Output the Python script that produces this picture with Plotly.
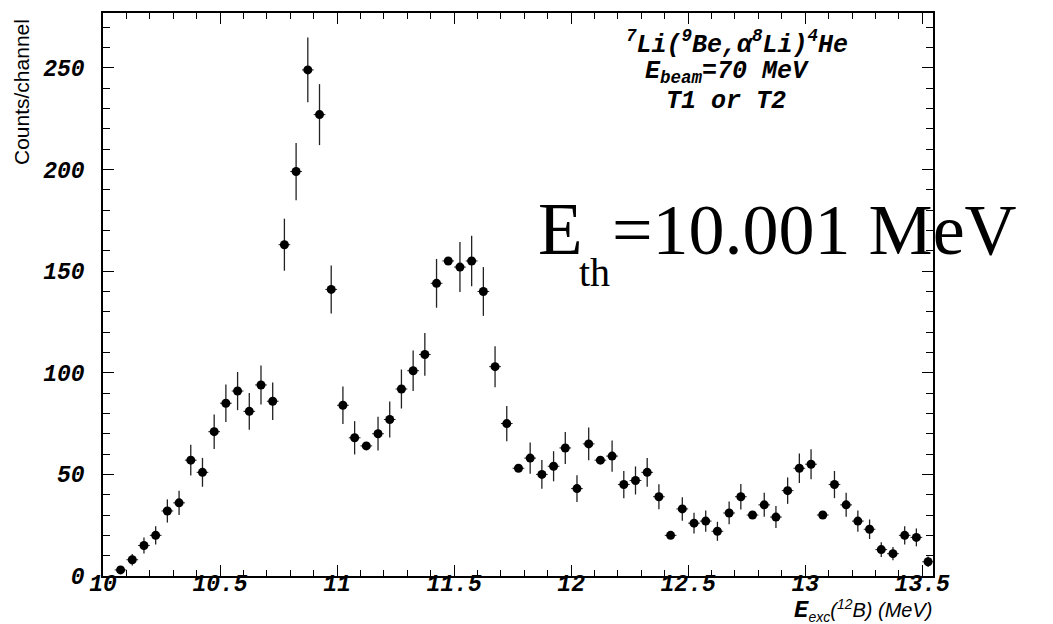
import plotly.graph_objects as go

# Bin centres of E_exc(12B) in MeV
energy = [10.075, 10.125, 10.175, 10.225, 10.275, 10.325, 10.375, 10.425, 10.475, 10.525,
          10.575, 10.625, 10.675, 10.725, 10.775, 10.825, 10.875, 10.925, 10.975, 11.025,
          11.075, 11.125, 11.175, 11.225, 11.275, 11.325, 11.375, 11.425, 11.475, 11.525,
          11.575, 11.625, 11.675, 11.725, 11.775, 11.825, 11.875, 11.925, 11.975, 12.025,
          12.075, 12.125, 12.175, 12.225, 12.275, 12.325, 12.375, 12.425, 12.475, 12.525,
          12.575, 12.625, 12.675, 12.725, 12.775, 12.825, 12.875, 12.925, 12.975, 13.025,
          13.075, 13.125, 13.175, 13.225, 13.275, 13.325, 13.375, 13.425, 13.475, 13.525]

counts = [3, 8, 15, 20, 32, 36, 57, 51, 71, 85,
          91, 81, 94, 86, 163, 199, 249, 227, 141, 84,
          68, 64, 70, 77, 92, 101, 109, 144, 155, 152,
          155, 140, 103, 75, 53, 58, 50, 54, 63, 43,
          65, 57, 59, 45, 47, 51, 39, 20, 33, 26,
          27, 22, 31, 39, 30, 35, 29, 42, 53, 55,
          30, 45, 35, 27, 23, 13, 11, 20, 19, 7]

errors = [1.7, 2.8, 3.9, 4.5, 5.7, 6.0, 7.6, 7.1, 8.5, 9.2,
          9.4, 9.0, 9.6, 9.2, 12.8, 14.1, 15.9, 15.0, 11.8, 9.2,
          8.2, 0, 8.3, 8.8, 9.6, 10.0, 10.5, 12.0, 0, 12.3,
          12.4, 12.0, 10.1, 8.7, 0, 7.7, 7.1, 7.4, 7.9, 6.6,
          8.1, 0, 7.7, 6.7, 6.9, 7.1, 6.2, 0, 5.8, 5.1,
          5.2, 4.7, 5.6, 6.3, 0, 5.9, 5.4, 6.5, 7.3, 7.4,
          0, 6.7, 5.9, 5.2, 4.8, 3.6, 3.3, 4.5, 4.4, 2.6]

x_ticks = [10, 10.5, 11, 11.5, 12, 12.5, 13, 13.5]
x_tick_text = ["10", "10.5", "11", "11.5", "12", "12.5", "13", "13.5"]
y_ticks = [0, 50, 100, 150, 200, 250]

# layout geometry (pixels)
W, H = 1053, 624
L, R, T, B = 103, 933, 13, 576


def px(x):
    return (x - L) / (R - L)


def py(y):
    return (B - y) / (B - T)


mono = "Liberation Mono, Courier New, monospace"
sans = "Liberation Sans, Arial, sans-serif"
serif = "Liberation Serif, Times New Roman, serif"
tickfont = dict(family=mono, size=23, color="black", style="italic", weight="bold")

fig = go.Figure()
fig.add_trace(go.Scatter(
    x=energy, y=counts, mode="markers",
    marker=dict(symbol="circle", size=9, color="black"),
    error_y=dict(type="data", array=errors, visible=True, color="#222222",
                 thickness=1.3, width=0),
    error_x=dict(type="constant", value=0.025, visible=True, color="#222222",
                 thickness=1, width=0),
    showlegend=False,
))

axis_common = dict(
    showline=True, linecolor="black", linewidth=1.5, mirror="ticks",
    ticks="inside", tickcolor="black", tickwidth=1, ticklen=11,
    showgrid=False, zeroline=False, tickfont=tickfont,
)

fig.update_xaxes(range=[10, 13.546], tickvals=x_ticks, ticktext=x_tick_text,
                 minor=dict(dtick=0.1, ticks="inside", ticklen=6, tickcolor="black",
                            showgrid=False),
                 ticklabelstandoff=-14, **axis_common)
fig.update_yaxes(range=[0, 277], tickvals=y_ticks,
                 minor=dict(dtick=10, ticks="inside", ticklen=7, tickcolor="black",
                            showgrid=False),
                 ticklabelstandoff=12, **axis_common)

annfont = dict(family=mono, size=25, color="black", style="italic", weight="bold")
ann = []
ann.append(dict(text="<sup>7</sup>Li(<sup>9</sup>Be,α<sup>8</sup>Li)<sup>4</sup>He",
                x=px(737), y=py(43), font=annfont))
ann.append(dict(text="E<sub>beam</sub>=70 MeV", x=px(727), y=py(73), font=annfont))
ann.append(dict(text="T1 or T2", x=px(726), y=py(102), font=annfont))

ann.append(dict(text="E", x=px(536), y=py(230), xanchor="left",
                font=dict(family=serif, size=73, color="black")))
ann.append(dict(text="th", x=px(577), y=py(272), xanchor="left",
                font=dict(family=serif, size=40, color="black")))
ann.append(dict(text="=10.001 MeV", x=px(610), y=py(230), xanchor="left",
                font=dict(family=serif, size=72, color="black")))

ann.append(dict(text="Counts/channel", x=px(22), y=py(92), textangle=-90,
                font=dict(family=sans, size=21, color="black")))
ann.append(dict(text="<span style='font-family:Liberation Mono;font-weight:bold;font-size:24px'>E</span>"
                     "<sub>exc</sub>(<sup>12</sup>B) (MeV)",
                x=px(934), y=py(610), xanchor="right",
                font=dict(family=sans, size=20, color="black", style="italic")))

for a in ann:
    a.setdefault("xanchor", "center")
    a.setdefault("yanchor", "middle")
    a.update(xref="paper", yref="paper", showarrow=False)

fig.update_layout(
    width=W, height=H,
    margin=dict(l=L, r=W - R, t=T, b=H - B, pad=0),
    paper_bgcolor="white", plot_bgcolor="white",
    annotations=ann,
)

fig.write_html("out.html")
